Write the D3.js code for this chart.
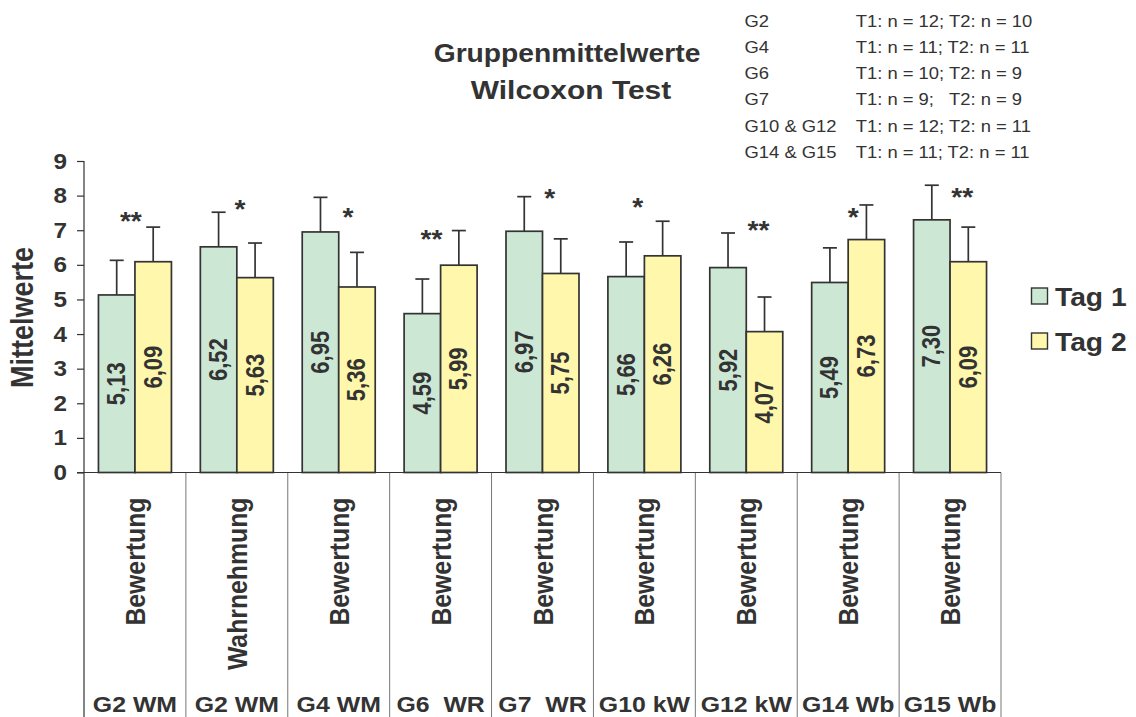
<!DOCTYPE html>
<html>
<head>
<meta charset="utf-8">
<script src="https://cdn.jsdelivr.net/npm/d3@7"></script>
<style>
  html, body { margin: 0; padding: 0; background: #fff; }
  svg { display: block; }
  text { font-family: "Liberation Sans", Arial, Helvetica, sans-serif; fill: #333; white-space: pre; }
</style>
</head>
<body>
<svg id="chart" width="1136" height="717"></svg>
<script>
// ---- data ----
const groups   = ["G2 WM", "G2 WM", "G4 WM", "G6  WR", "G7  WR", "G10 kW", "G12 kW", "G14 Wb", "G15 Wb"];
const measures = ["Bewertung", "Wahrnehmung", "Bewertung", "Bewertung", "Bewertung", "Bewertung", "Bewertung", "Bewertung", "Bewertung"];
const series   = ["Tag 1", "Tag 2"];
const tag1     = [5.13, 6.52, 6.95, 4.59, 6.97, 5.66, 5.92, 5.49, 7.30];
const tag2     = [6.09, 5.63, 5.36, 5.99, 5.75, 6.26, 4.07, 6.73, 6.09];
const err1     = [1.0, 1.0, 1.0, 1.0, 1.0, 1.0, 1.0, 1.0, 1.0];
const err2     = [1.0, 1.0, 1.0, 1.0, 1.0, 1.0, 1.0, 1.0, 1.0];
const signif   = ["**", "*", "*", "**", "*", "*", "**", "*", "**"];
const yTicks   = [0, 1, 2, 3, 4, 5, 6, 7, 8, 9];
const titleLines = ["Gruppenmittelwerte", "Wilcoxon Test"];
const sampleGroups = ["G2", "G4", "G6", "G7", "G10 & G12", "G14 & G15"];
const sampleSizes  = ["T1: n = 12; T2: n = 10", "T1: n = 11; T2: n = 11", "T1: n = 10; T2: n = 9",
                      "T1: n = 9;   T2: n = 9", "T1: n = 12; T2: n = 11", "T1: n = 11; T2: n = 11"];

// significance marks: height (in value units) and sideways nudge (share of a category)
const starLevel = [7.41, 7.73, 7.50, 6.88, 8.07, 7.79, 7.15, 7.50, 8.08];
const starNudge = [-0.04, 0.03, 0.09, -0.09, 0.07, -0.065, 0.12, 0.05, 0.12];

(function draw() {
  // ---- layout ----
  const SX = 1.13;                 // horizontal widening of the lettering
  const fills = ["#cce8d5", "#fff7ab"];
  const ink = "#333";
  const plotL = 84, plotR = 1001, plotT = 161, base = 472.5, pageB = 717;

  const svg = d3.select("#chart");
  const deFmt = d3.formatLocale({decimal: ",", thousands: ".", grouping: [3], currency: ["", " €"]}).format(".2f");

  const idx = groups.map((_, i) => i);
  const x = d3.scaleBand().domain(idx).range([plotL, plotR]).paddingInner(0).paddingOuter(0);
  const xs = d3.scaleBand().domain([0, 1]).range([0, x.bandwidth()]).paddingInner(0).paddingOuter(0.396);
  const y = d3.scaleLinear().domain([0, 9]).range([base, plotT]);

  // widened text helper
  function label(g, str, px, py, size, opts = {}) {
    return g.append("text")
      .attr("transform", `translate(${px},${py}) scale(${SX},1)` + (opts.rotate ? " rotate(-90)" : ""))
      .attr("font-size", size)
      .attr("font-weight", opts.bold === false ? "normal" : "bold")
      .attr("text-anchor", opts.anchor || "start")
      .text(str);
  }

  // title
  label(svg, titleLines[0], 567, 61.5, 25, {anchor: "middle"});
  label(svg, titleLines[1], 571, 98.5, 26.5, {anchor: "middle"});

  // sample size table
  sampleGroups.forEach((gname, i) => {
    const by = 26.5 + i * 26.3;
    label(svg, gname, 744.5, by, 16.3, {bold: false});
    label(svg, sampleSizes[i], 855.7, by, 16.3, {bold: false});
  });

  // y axis
  const yAxis = d3.axisLeft(y).tickValues(yTicks).tickSize(7).tickFormat("");
  const ya = svg.append("g").attr("transform", `translate(${plotL},0)`).call(yAxis);
  ya.select(".domain").remove();
  ya.selectAll(".tick line").attr("stroke", ink).attr("stroke-width", 1.2);
  yTicks.forEach(v => label(svg, String(v), 67, y(v) + 7.5, 21.5, {anchor: "end"}));

  svg.append("line").attr("x1", plotL).attr("x2", plotL).attr("y1", plotT).attr("y2", pageB)
    .attr("stroke", ink).attr("stroke-width", 1.2);

  // y axis title
  label(svg, "Mittelwerte", 33, 317.5, 27, {anchor: "middle", rotate: true});

  // category cells below the baseline
  const cells = svg.append("g");
  idx.forEach(i => {
    const x1 = x(i) + x.bandwidth();
    cells.append("line").attr("x1", x1).attr("x2", x1).attr("y1", base).attr("y2", pageB)
      .attr("stroke", "#777").attr("stroke-width", 1);
    const cx = x(i) + x.bandwidth() / 2;
    label(cells, measures[i], cx + 10, 497.5, 24.8, {anchor: "end", rotate: true});
    label(cells, groups[i], cx, 712, 22, {anchor: "middle"});
  });

  // baseline
  svg.append("line").attr("x1", plotL - 7).attr("x2", plotR).attr("y1", base).attr("y2", base)
    .attr("stroke", ink).attr("stroke-width", 1.2);

  // bars
  const rows = idx.map(i => [
    {i, s: 0, v: tag1[i], e: err1[i]},
    {i, s: 1, v: tag2[i], e: err2[i]}
  ]).flat();

  svg.append("g").selectAll("rect").data(rows).join("rect")
    .attr("x", d => x(d.i) + xs(d.s))
    .attr("width", xs.bandwidth())
    .attr("y", d => y(d.v))
    .attr("height", d => y(0) - y(d.v))
    .attr("fill", d => fills[d.s])
    .attr("stroke", ink).attr("stroke-width", 1.7);

  // error bars (upper)
  const eb = svg.append("g").attr("stroke", ink).attr("stroke-width", 1.7);
  rows.forEach(d => {
    const cx = x(d.i) + xs(d.s) + xs.bandwidth() / 2;
    eb.append("line").attr("x1", cx).attr("x2", cx).attr("y1", y(d.v)).attr("y2", y(d.v + d.e));
    eb.append("line").attr("x1", cx - 7).attr("x2", cx + 7).attr("y1", y(d.v + d.e)).attr("y2", y(d.v + d.e));
  });

  // value labels inside bars
  rows.forEach(d => {
    const cx = x(d.i) + xs(d.s) + xs.bandwidth() / 2;
    const cy = (y(d.v) + y(0)) / 2;
    label(svg, deFmt(d.v), cx + 8.5, cy, 22, {anchor: "middle", rotate: true});
  });

  // significance marks
  idx.forEach(i => {
    const cx = x(i) + x.bandwidth() * (0.5 + starNudge[i]);
    label(svg, signif[i], cx, y(starLevel[i]) + 13.5, 25, {anchor: "middle"});
  });

  // legend
  series.forEach((s, k) => {
    const ly = 288 + k * 45;
    svg.append("rect").attr("x", 1031.5).attr("y", ly).attr("width", 16).attr("height", 16)
      .attr("fill", fills[k]).attr("stroke", ink).attr("stroke-width", 1.4);
    label(svg, s, 1055, ly + 17.5, 25);
  });
})();
</script>
</body>
</html>
